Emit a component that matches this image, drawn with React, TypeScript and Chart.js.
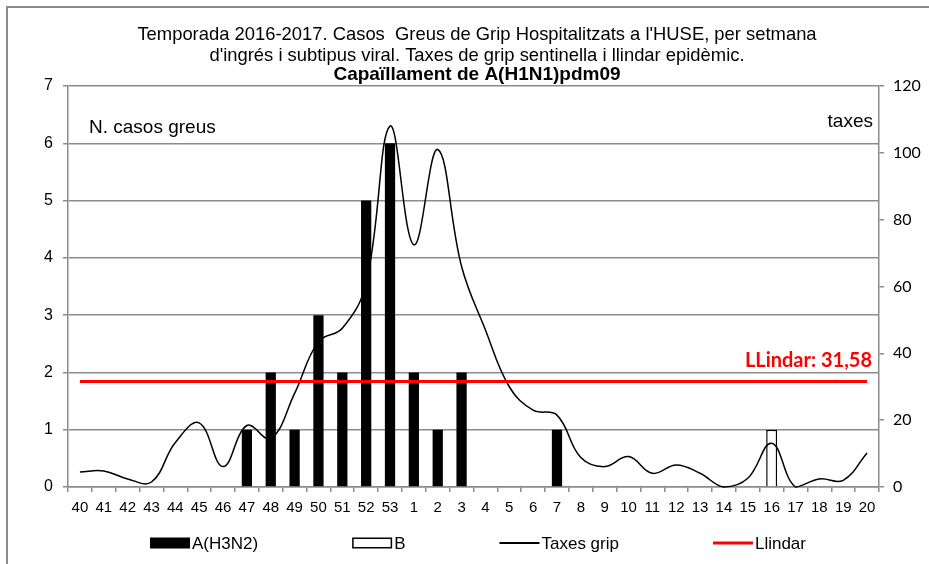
import React, { useEffect, useRef } from "react";
import { Chart, registerables } from "chart.js";

Chart.register(...registerables);

// ---- Data ----
const weeks = [
  "40", "41", "42", "43", "44", "45", "46", "47", "48", "49", "50", "51", "52", "53",
  "1", "2", "3", "4", "5", "6", "7", "8", "9", "10", "11", "12", "13", "14", "15", "16", "17", "18", "19", "20",
];
const casosH3N2 = [0, 0, 0, 0, 0, 0, 0, 1, 2, 1, 3, 2, 5, 6, 2, 1, 2, 0, 0, 0, 1, 0, 0, 0, 0, 0, 0, 0, 0, 0, 0, 0, 0, 0];
const casosB = [0, 0, 0, 0, 0, 0, 0, 0, 0, 0, 0, 0, 0, 0, 0, 0, 0, 0, 0, 0, 0, 0, 0, 0, 0, 0, 0, 0, 0, 1, 0, 0, 0, 0];
const taxesGrip = [
  4.5, 4.8, 2.4, 1.5, 13.3, 19.2, 6.1, 18.4, 14.5, 28, 43.5, 47.5, 61, 108,
  72.5, 101, 66, 47, 30, 23, 21.5, 8.8, 6.1, 9.1, 4.1, 6.6, 4.1, 0, 2.6, 13.1, 0, 2.4, 2, 10.2,
];
const llindarValue = 31.58;
const llindarText = "LLindar: 31,58";
const leftAxisRange = [0, 7, 1];
const rightAxisRange = [0, 120, 20];
const titleLines = [
  "Temporada 2016-2017. Casos  Greus de Grip Hospitalitzats a l'HUSE, per setmana",
  "d'ingrés i subtipus viral. Taxes de grip sentinella i llindar epidèmic.",
  "Capaïllament de A(H1N1)pdm09",
];
const leftAxisTitle = "N. casos greus";
const rightAxisTitle = "taxes";
const legendNames = ["A(H3N2)", "B", "Taxes grip", "Llindar"];

const W = 929;
const H = 564;
const GRAY = "#8c8c8c";
const SANS = '"Liberation Sans", Arial, sans-serif';

const decorPlugin = {
  id: "decor",
  beforeDraw(chart: any) {
    const ctx = chart.ctx;
    ctx.save();
    ctx.fillStyle = "#fff";
    ctx.fillRect(0, 0, W, H);
    ctx.strokeStyle = GRAY;
    ctx.lineWidth = 2;
    ctx.beginPath();
    ctx.moveTo(7, H + 5);
    ctx.lineTo(7, 7);
    ctx.lineTo(W + 5, 7);
    ctx.stroke();
    ctx.restore();
  },
  afterDraw(chart: any) {
    const ctx = chart.ctx;
    const area = chart.chartArea;
    ctx.save();
    // Title
    ctx.fillStyle = "#000";
    ctx.textAlign = "center";
    ctx.textBaseline = "alphabetic";
    const cx = 477;
    ctx.font = `18.4px ${SANS}`;
    ctx.fillText(titleLines[0], cx, 40);
    ctx.fillText(titleLines[1], cx, 61);
    ctx.font = `bold 19px ${SANS}`;
    ctx.fillText(titleLines[2], cx, 80);

    // Axis captions
    ctx.font = `19px ${SANS}`;
    ctx.textAlign = "left";
    ctx.fillText(leftAxisTitle, area.left + 21, area.top + 47);
    ctx.textAlign = "right";
    ctx.fillText(rightAxisTitle, area.right - 6, area.top + 41);

    // Llindar label
    const y1 = chart.scales.y1;
    const xs = chart.scales.x;
    const ly = y1.getPixelForValue(llindarValue);
    const lx = xs.getPixelForValue(weeks.length - 1);
    ctx.font = `bold 20px Lato, "Open Sans", sans-serif`;
    ctx.fillStyle = "#ff0000";
    ctx.textAlign = "right";
    ctx.fillText(llindarText, lx + 5, ly - 14);

    // Legend
    ctx.font = `17px ${SANS}`;
    ctx.textAlign = "left";
    ctx.textBaseline = "middle";
    const boxW = 40;
    const gapText = 2;
    const gapItems = 94;
    const widths = legendNames.map((n) => boxW + gapText + ctx.measureText(n).width);
    const total = widths.reduce((a, b) => a + b, 0) + gapItems * (legendNames.length - 1);
    let x = 478 - total / 2;
    const yc = 543;
    legendNames.forEach((name, i) => {
      if (i === 0) {
        ctx.fillStyle = "#000";
        ctx.fillRect(x, yc - 5.5, boxW, 11);
      } else if (i === 1) {
        ctx.fillStyle = "#fff";
        ctx.fillRect(x, yc - 5.5, boxW, 11);
        ctx.strokeStyle = "#000";
        ctx.lineWidth = 1.5;
        ctx.strokeRect(x + 0.75, yc - 5.5 + 0.75, boxW - 1.5, 11 - 1.5);
      } else {
        ctx.strokeStyle = i === 2 ? "#000" : "#ff0000";
        ctx.lineWidth = i === 2 ? 2 : 3;
        ctx.beginPath();
        ctx.moveTo(x, yc);
        ctx.lineTo(x + boxW, yc);
        ctx.stroke();
      }
      ctx.fillStyle = "#000";
      ctx.fillText(name, x + boxW + gapText, yc + 1);
      x += widths[i] + gapItems;
    });
    ctx.restore();
  },
};

export default function App() {
  const ref = useRef<HTMLCanvasElement | null>(null);

  useEffect(() => {
    if (!ref.current) return;
    const chart = new Chart(ref.current, {
      type: "bar",
      data: {
        labels: weeks,
        datasets: [
          {
            type: "line",
            label: legendNames[3],
            data: weeks.map(() => llindarValue),
            yAxisID: "y1",
            borderColor: "#ff0000",
            borderWidth: 3,
            pointRadius: 0,
            tension: 0,
            order: 0,
          } as any,
          {
            type: "line",
            label: legendNames[2],
            data: taxesGrip,
            yAxisID: "y1",
            borderColor: "#000",
            borderWidth: 1.5,
            pointRadius: 0,
            tension: 0.4,
            clip: false,
            order: 1,
          } as any,
          {
            type: "bar",
            label: legendNames[0],
            data: casosH3N2,
            yAxisID: "y",
            backgroundColor: "#000",
            borderWidth: 0,
            grouped: false,
            barPercentage: 0.43,
            categoryPercentage: 1,
            order: 2,
          } as any,
          {
            type: "bar",
            label: legendNames[1],
            data: casosB.map((v) => (v === 0 ? null : v)),
            yAxisID: "y",
            backgroundColor: "#fff",
            borderColor: "#000",
            borderWidth: 1.5,
            grouped: false,
            barPercentage: 0.46,
            categoryPercentage: 1,
            order: 3,
          } as any,
        ],
      },
      options: {
        responsive: false,
        animation: false,
        devicePixelRatio: 1,
        layout: { padding: { top: 86, bottom: 47, left: 0, right: 0 } },
        plugins: {
          legend: { display: false },
          title: { display: false },
          tooltip: { enabled: false },
        },
        scales: {
          x: {
            offset: true,
            grid: { drawOnChartArea: false, drawTicks: true, tickLength: 5, color: GRAY, lineWidth: 1.5 },
            border: { color: GRAY, width: 1.5 },
            ticks: {
              font: { family: SANS, size: 15 },
              color: "#000",
              padding: 7,
              maxRotation: 0,
              autoSkip: false,
            },
            afterFit: (s: any) => {
              s.height = 30;
            },
          },
          y: {
            position: "left",
            min: leftAxisRange[0],
            max: leftAxisRange[1],
            ticks: { stepSize: leftAxisRange[2], font: { family: SANS, size: 16 }, color: "#000", padding: 10 },
            grid: { color: GRAY, lineWidth: 1.5, tickLength: 5 },
            border: { color: GRAY, width: 1.5 },
            afterFit: (s: any) => {
              s.width = 68;
            },
          },
          y1: {
            position: "right",
            min: rightAxisRange[0],
            max: rightAxisRange[1],
            ticks: { stepSize: rightAxisRange[2], font: { family: "Lato, sans-serif", size: 16 }, color: "#000", padding: 9 },
            grid: { drawOnChartArea: false, tickLength: 5, color: GRAY, lineWidth: 1.5 },
            border: { color: GRAY, width: 1.5 },
            afterFit: (s: any) => {
              s.width = 50;
            },
          },
        },
      } as any,
      plugins: [decorPlugin],
    });
    return () => chart.destroy();
  }, []);

  return (
    <div style={{ position: "absolute", left: 0, top: 0, width: W, height: H }}>
      <canvas ref={ref} width={W} height={H} style={{ width: W, height: H, display: "block" }} />
    </div>
  );
}
